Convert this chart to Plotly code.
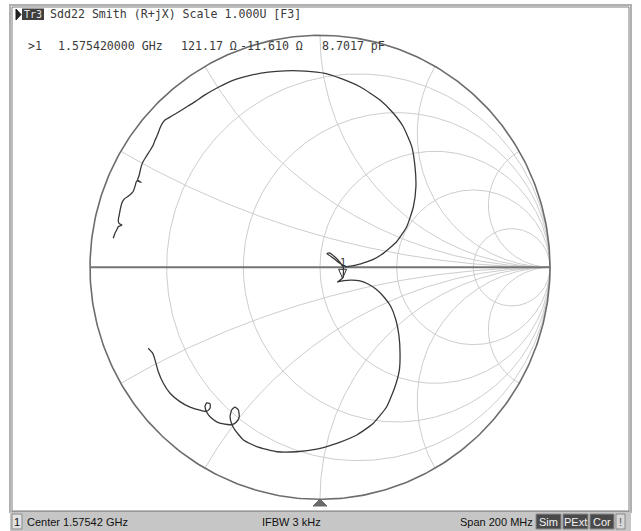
import numpy as np
import plotly.graph_objects as go

W, H = 641, 531

# ---------------- data ----------------
# Smith chart grid values (normalised resistance circles / reactance arcs)
r_grid = [0.2, 0.5, 1.0, 2.0, 5.0]
x_grid = [0.268, 0.577, 1.0, 1.732, 3.732]

gamma_re = [-0.899, -0.891, -0.884, -0.877, -0.861, -0.874, -0.877, -0.872, -0.867, -0.860,
            -0.848, -0.830, -0.819, -0.811, -0.804, -0.797, -0.778, -0.793, -0.787, -0.783,
            -0.778, -0.772, -0.761, -0.747, -0.735, -0.725, -0.717, -0.710, -0.702, -0.696,
            -0.687, -0.674, -0.645, -0.626, -0.601, -0.574, -0.543, -0.500, -0.442, -0.384,
            -0.312, -0.225, -0.152, -0.065, 0.022, 0.087, 0.174, 0.261, 0.319, 0.362,
            0.399, 0.413, 0.417, 0.406, 0.377, 0.333, 0.275, 0.232, 0.203, 0.160,
            0.113, 0.078, 0.048, 0.030, 0.041, 0.065, 0.087, 0.100, 0.102, 0.098,
            0.076, 0.104, 0.139, 0.174, 0.209, 0.243, 0.278, 0.309, 0.330, 0.343,
            0.348, 0.345, 0.326, 0.290, 0.232, 0.160, 0.073, -0.014, -0.101, -0.188,
            -0.275, -0.333, -0.370, -0.384, -0.391, -0.384, -0.370, -0.355, -0.351, -0.362,
            -0.384, -0.420, -0.449, -0.478, -0.490, -0.500, -0.493, -0.478, -0.478, -0.493,
            -0.514, -0.565, -0.609, -0.652, -0.681, -0.703, -0.717, -0.727, -0.747]
gamma_im = [0.125, 0.148, 0.161, 0.175, 0.182, 0.189, 0.204, 0.230, 0.256, 0.281,
            0.297, 0.309, 0.319, 0.329, 0.350, 0.372, 0.366, 0.376, 0.394, 0.411,
            0.432, 0.450, 0.469, 0.491, 0.510, 0.527, 0.549, 0.563, 0.583, 0.599,
            0.618, 0.635, 0.652, 0.663, 0.678, 0.695, 0.714, 0.743, 0.776, 0.804,
            0.825, 0.841, 0.847, 0.846, 0.836, 0.815, 0.778, 0.721, 0.664, 0.606,
            0.520, 0.434, 0.347, 0.261, 0.175, 0.110, 0.060, 0.034, 0.023, 0.010,
            0.003, 0.023, 0.047, 0.059, 0.062, 0.044, 0.021, 0.003, -0.016, -0.047,
            -0.063, -0.057, -0.055, -0.059, -0.072, -0.094, -0.128, -0.171, -0.227, -0.292,
            -0.371, -0.443, -0.515, -0.601, -0.672, -0.723, -0.759, -0.784, -0.795, -0.795,
            -0.773, -0.744, -0.701, -0.675, -0.644, -0.615, -0.603, -0.615, -0.644, -0.666,
            -0.678, -0.675, -0.666, -0.644, -0.629, -0.601, -0.584, -0.589, -0.608, -0.622,
            -0.618, -0.603, -0.579, -0.543, -0.500, -0.450, -0.400, -0.371, -0.349]

z0 = 100.0
mkr_num = "1"
mkr_freq = "1.575420000 GHz"
mkr_r = 121.17
mkr_x = -11.610
mkr_c = "8.7017 pF"

trace_tag = "Tr3"
title_text = "Sdd22 Smith (R+jX) Scale 1.000U [F3]"
status_ch = "1"
status_center = "Center 1.57542 GHz"
status_ifbw = "IFBW 3 kHz"
status_span = "Span 200 MHz"
status_flags = ["Sim", "PExt", "Cor"]

# ---------------- geometry ----------------
CX, CY, RX, RY = 320.0, 267.3, 230.0, 232.0
xr = [(0 - CX) / RX, (W - CX) / RX]
yr = [(CY - H) / RY, CY / RY]


def px(x):
    return x / W


def py(y):
    return 1 - y / H


fig = go.Figure()

# grid
gx, gy = [], []
phi = np.linspace(0, 2 * np.pi, 400)
for r in r_grid:
    c = r / (1 + r)
    rad = 1 / (1 + r)
    gx += list(c + rad * np.cos(phi)) + [None]
    gy += list(rad * np.sin(phi)) + [None]
rr = np.concatenate([np.linspace(0, 1, 80, endpoint=False), np.geomspace(1, 20000, 400)])
for xv in x_grid:
    for s in (1, -1):
        z = rr + 1j * s * xv
        g = (z - 1) / (z + 1)
        gx += list(g.real) + [1.0, None]
        gy += list(g.imag) + [0.0, None]
fig.add_trace(go.Scatter(x=gx, y=gy, mode="lines", line=dict(color="#cdcdcd", width=1),
                         hoverinfo="skip"))

# outer circle and real axis
fig.add_trace(go.Scatter(x=list(np.cos(phi)), y=list(np.sin(phi)), mode="lines",
                         line=dict(color="#6c6c6c", width=1.6), hoverinfo="skip"))
fig.add_trace(go.Scatter(x=[-1, 1], y=[0, 0], mode="lines",
                         line=dict(color="#747474", width=2), hoverinfo="skip"))

# measured trace
fig.add_trace(go.Scatter(x=gamma_re, y=gamma_im, mode="lines",
                         line=dict(color="#383838", width=1.3, shape="spline", smoothing=0.5),
                         hoverinfo="skip"))

# marker position from marker readout
zm = complex(mkr_r, mkr_x) / z0
gm = (zm - 1) / (zm + 1)

shapes = []
shapes.append(dict(type="path", xref="x", yref="y", xsizemode="pixel", ysizemode="pixel",
                   xanchor=gm.real, yanchor=gm.imag, path="M-4,9 L4,9 L0,0 Z",
                   line=dict(color="#333333", width=1), fillcolor="rgba(0,0,0,0)"))

# bottom stimulus triangle
shapes.append(dict(type="path", xref="paper", yref="paper",
                   path=f"M{px(313)},{py(506)} L{px(327)},{py(506)} L{px(320)},{py(499)} Z",
                   line=dict(color="#6a6a6a", width=1), fillcolor="#6a6a6a"))

# window frame
shapes.append(dict(type="rect", xref="paper", yref="paper", x0=px(10), x1=px(631),
                   y0=py(512), y1=py(5), line=dict(color="#b0b0b0", width=2),
                   fillcolor="rgba(0,0,0,0)", layer="above"))
shapes.append(dict(type="rect", xref="paper", yref="paper", x0=px(12), x1=px(629),
                   y0=py(511), y1=py(7), line=dict(color="#7c7c7c", width=1),
                   fillcolor="rgba(0,0,0,0)", layer="above"))
# status bar
shapes.append(dict(type="rect", xref="paper", yref="paper", x0=px(10), x1=px(631),
                   y0=py(531), y1=py(512), line=dict(width=0), fillcolor="#c6c6c6",
                   layer="above"))
shapes.append(dict(type="rect", xref="paper", yref="paper", x0=px(12), x1=px(22),
                   y0=py(529), y1=py(514), line=dict(color="#8a8a8a", width=1),
                   fillcolor="#e2e2e2", layer="above"))
flag_x = [(536, 561), (563, 588), (590, 614)]
for (a, b) in flag_x:
    shapes.append(dict(type="rect", xref="paper", yref="paper", x0=px(a), x1=px(b),
                       y0=py(529), y1=py(514), line=dict(color="#8a8a8a", width=1),
                       fillcolor="#4a4a4a", layer="above"))
shapes.append(dict(type="rect", xref="paper", yref="paper", x0=px(616), x1=px(625),
                   y0=py(529), y1=py(514), line=dict(color="#8a8a8a", width=1),
                   fillcolor="#d8d8d8", layer="above"))
# header Tr3 tag
shapes.append(dict(type="path", xref="paper", yref="paper",
                   path=f"M{px(16)},{py(9)} L{px(16)},{py(20)} L{px(21)},{py(14.5)} Z",
                   line=dict(color="#202020", width=1), fillcolor="#202020", layer="above"))
shapes.append(dict(type="rect", xref="paper", yref="paper", x0=px(22), x1=px(44),
                   y0=py(20), y1=py(8.5), line=dict(width=0), fillcolor="#3e3e3e",
                   layer="above"))

mono = "DejaVu Sans Mono"
sans = "Liberation Sans"
ann = []


def txt(x, y, s, size=11.6, color="#3a3a3a", family=mono, anchor="left"):
    ann.append(dict(x=px(x), y=py(y), xref="paper", yref="paper", text=s, showarrow=False,
                    xanchor=anchor, yanchor="middle", borderpad=0,
                    font=dict(family=family, size=size, color=color)))


txt(33, 14.5, trace_tag, size=10, color="#e6e6e6", anchor="center")
txt(49, 14, title_text)
txt(27, 46, ">" + mkr_num)
txt(57, 46, mkr_freq)
txt(180, 46, f"{mkr_r:.2f} Ω")
txt(239, 46, f"{mkr_x:.3f} Ω")
txt(321, 46, mkr_c)

txt(17, 522, status_ch, size=11, color="#111111", family=sans, anchor="center")
txt(26, 522, status_center, size=11, color="#111111", family=sans)
txt(261, 522, status_ifbw, size=11, color="#111111", family=sans)
txt(459, 522, status_span, size=11, color="#111111", family=sans)
for (a, b), s in zip(flag_x, status_flags):
    txt((a + b) / 2, 522, s, size=11, color="#f2f2f2", family=sans, anchor="center")
txt(620.5, 522, "!", size=11, color="#555555", family=sans, anchor="center")

# marker label
ann.append(dict(x=gm.real, y=gm.imag, xref="x", yref="y", text=mkr_num, showarrow=False,
                xanchor="center", yanchor="bottom", yshift=9, borderpad=0,
                font=dict(family=mono, size=10, color="#333333")))

fig.update_layout(
    width=W, height=H, margin=dict(l=0, r=0, t=0, b=0, pad=0),
    paper_bgcolor="white", plot_bgcolor="white", showlegend=False,
    xaxis=dict(range=xr, visible=False, fixedrange=True),
    yaxis=dict(range=yr, visible=False, fixedrange=True),
    shapes=shapes, annotations=ann,
)

fig.write_html("out.html", config={"displayModeBar": False},
               post_script="document.body.style.margin='0';document.body.style.overflow='hidden';")
